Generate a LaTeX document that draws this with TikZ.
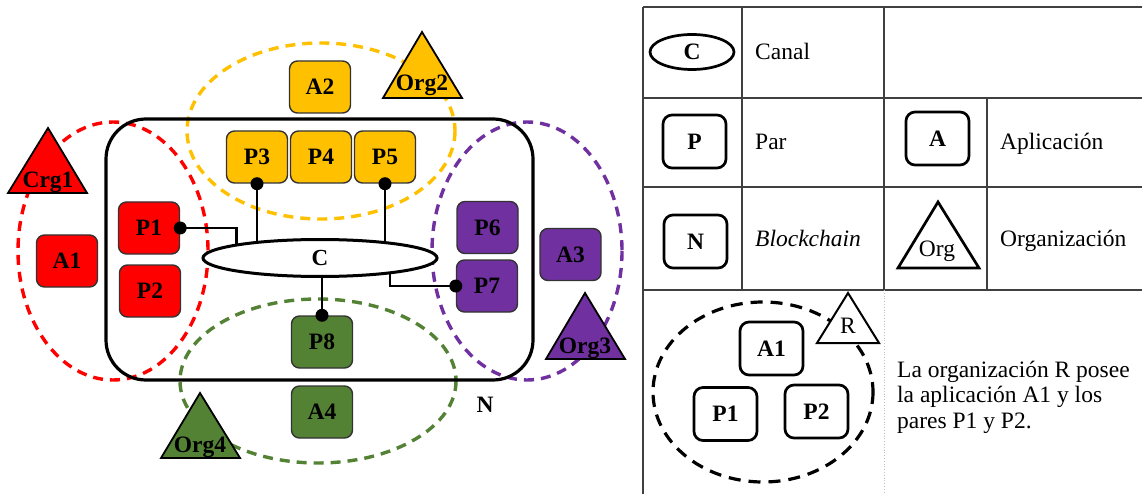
\documentclass[tikz,border=0pt]{standalone}
\usepackage{fontspec}
\setmainfont{Liberation Serif}
\usetikzlibrary{shapes.geometric}
\pgfdeclarelayer{bg}
\pgfsetlayers{bg,main}

\definecolor{orgred}{HTML}{FF0000}
\definecolor{orggold}{HTML}{FFC000}
\definecolor{orgpurple}{HTML}{7030A0}
\definecolor{orggreen}{HTML}{548235}
\definecolor{gridgray}{HTML}{404040}

\begin{document}
\begin{tikzpicture}[x=1pt,y=-1pt,
  box/.style={draw=black!80, line width=1.4pt, rounded corners=8pt,
    minimum width=61pt, minimum height=52pt, inner sep=0pt,
    font=\fontsize{23.5}{26}\selectfont\bfseries},
  keybox/.style={draw=black, line width=2.7pt, rounded corners=9pt,
    minimum width=63pt, minimum height=53pt, inner sep=0pt,
    font=\fontsize{23.5}{26}\selectfont\bfseries},
  orgzone/.style={line width=3.4pt, dash pattern=on 10pt off 7pt},
  link/.style={line width=2.6pt},
  tri/.style={draw=black, line width=1.8pt, line join=miter},
  lbl/.style={font=\fontsize{23.5}{26}\selectfont\bfseries, inner sep=0pt, anchor=base},
  txt/.style={font=\fontsize{23.5}{26}\selectfont, inner sep=0pt, anchor=base west},
  rule/.style={draw=gridgray, line width=1.2pt}
]
\useasboundingbox (0,0) rectangle (1142,494);

% ---------------- organisation zones ----------------
\begin{pgfonlayer}{bg}
  \draw[orgzone, draw=orgred]    (113,251) ellipse [x radius=95,  y radius=129];
  \draw[orgzone, draw=orggold]   (321,131) ellipse [x radius=134, y radius=88];
  \draw[orgzone, draw=orgpurple] (527,251) ellipse [x radius=95,  y radius=129];
  \draw[orgzone, draw=orggreen]  (318,381) ellipse [x radius=138, y radius=82];
\end{pgfonlayer}

% ---------------- blockchain network ----------------
\node[draw, line width=3.2pt, rounded corners=40pt, minimum width=427pt,
      minimum height=261pt, inner sep=0pt] (net) at (319.5,249.5) {};
\node[font=\fontsize{23.5}{26}\selectfont\bfseries, inner sep=0pt] (netlbl) at (485,405) {N};

% channel
\node[ellipse, draw, line width=3pt, fill=white, minimum width=234pt,
      minimum height=37pt, inner sep=0pt,
      font=\fontsize{23}{26}\selectfont\bfseries] (C) at (320,258) {C};

% organisation 1 (red)
\node[box, fill=orgred] (A1) at (67,261) {A1};
\node[box, fill=orgred] (P1) at (149,228) {P1};
\node[box, fill=orgred] (P2) at (150,291) {P2};
\filldraw[tri, fill=orgred] (48,128) -- (87,193) -- (8,193) -- cycle;
\node[lbl] (org1) at (48,188) {Crg1};

% organisation 2 (gold)
\node[box, fill=orggold] (A2) at (320,87) {A2};
\node[box, fill=orggold] (P3) at (257,157) {P3};
\node[box, fill=orggold] (P4) at (321,157) {P4};
\node[box, fill=orggold] (P5) at (385,157) {P5};
\filldraw[tri, fill=orggold] (422,32) -- (462,98) -- (383,98) -- cycle;
\node[lbl] (org2) at (422,91) {Org2};

% organisation 3 (purple)
\node[box, fill=orgpurple] (P6) at (487.5,227.5) {P6};
\node[box, fill=orgpurple] (P7) at (487,286) {P7};
\node[box, fill=orgpurple] (A3) at (570.5,254.5) {A3};
\filldraw[tri, fill=orgpurple] (585,293) -- (625,359) -- (546,359) -- cycle;
\node[lbl] (org3) at (585,353) {Org3};

% organisation 4 (green)
\node[box, fill=orggreen] (P8) at (322,342) {P8};
\node[box, fill=orggreen] (A4) at (322,412) {A4};
\filldraw[tri, fill=orggreen] (200,393) -- (240,458) -- (161,458) -- cycle;
\node[lbl] (org4) at (200,452) {Org4};

% peers joined to the channel
\begin{pgfonlayer}{bg}
  \draw[link] (P3.south) -- (P3.south |- C.center);
  \draw[link] (P5.south) -- (P5.south |- C.center);
  \draw[link] (P1.east) -| (C.north west);
  \draw[link] (P7.west) -| (C.-13);
  \draw[link] (P8.north) -- (P8.north |- C.center);
\end{pgfonlayer}
\foreach \p/\a in {P3/south, P5/south, P1/east, P7/west, P8/north}
  \fill (\p.\a) circle [radius=6.5];

% ---------------- legend table ----------------
\draw[rule] (643,7) -- (1142,7);
\draw[rule] (643,98) -- (1142,98);
\draw[rule] (643,187) -- (1142,187);
\draw[rule] (643,290) -- (1142,290);
\draw[rule] (643,7) -- (643,494);
\draw[rule] (742,7) -- (742,290);
\draw[rule] (884,7) -- (884,290);
\draw[rule] (987,98) -- (987,290);
\draw[gray!50, line width=0.8pt, dotted] (884,290) -- (884,494);

% row 1: channel
\node[ellipse, draw, line width=2.7pt, minimum width=84pt, minimum height=35pt,
      inner sep=0pt, font=\fontsize{23.5}{26}\selectfont\bfseries] (keyC) at (692,52) {C};
\node[txt] (tCanal) at (755,60) {Canal};

% row 2: peer and application
\node[keybox] (keyP) at (694.5,141.5) {P};
\node[txt] (tPar) at (755,150) {Par};
\node[keybox] (keyA) at (937.5,138.5) {A};
\node[txt] (tApl) at (1000,150) {Aplicación};

% row 3: blockchain and organisation
\node[keybox] (keyN) at (695.5,241.5) {N};
\node[txt] (tBlk) at (755,247) {\itshape Blockchain};
\draw[draw=black, line width=2.7pt, line join=miter] (938,202) -- (979,268) -- (898,268) -- cycle;
\node[font=\fontsize{23.5}{26}\selectfont, inner sep=0pt, anchor=base] (keyOrg) at (937,257) {Org};
\node[txt] (tOrg) at (1000,247) {Organización};

% row 4: example organisation
\begin{pgfonlayer}{bg}
  \draw[line width=3.2pt, dash pattern=on 12pt off 8pt] (763,392) ellipse [x radius=110, y radius=90];
\end{pgfonlayer}
\node[keybox] (exA1) at (771.5,348.5) {A1};
\node[keybox] (exP1) at (725.5,414) {P1};
\node[keybox] (exP2) at (816.5,411.5) {P2};
\filldraw[draw=black, fill=white, line width=2pt, line join=miter] (848,293) -- (879,343) -- (817,343) -- cycle;
\node[font=\fontsize{23.5}{26}\selectfont, inner sep=0pt, anchor=base] (exR) at (848,333) {R};
\node[txt] (ex1) at (897,377) {La organización R posee};
\node[txt] (ex2) at (897,402) {la aplicación A1 y los};
\node[txt] (ex3) at (897,428) {pares P1 y P2.};
\end{tikzpicture}
\end{document}
